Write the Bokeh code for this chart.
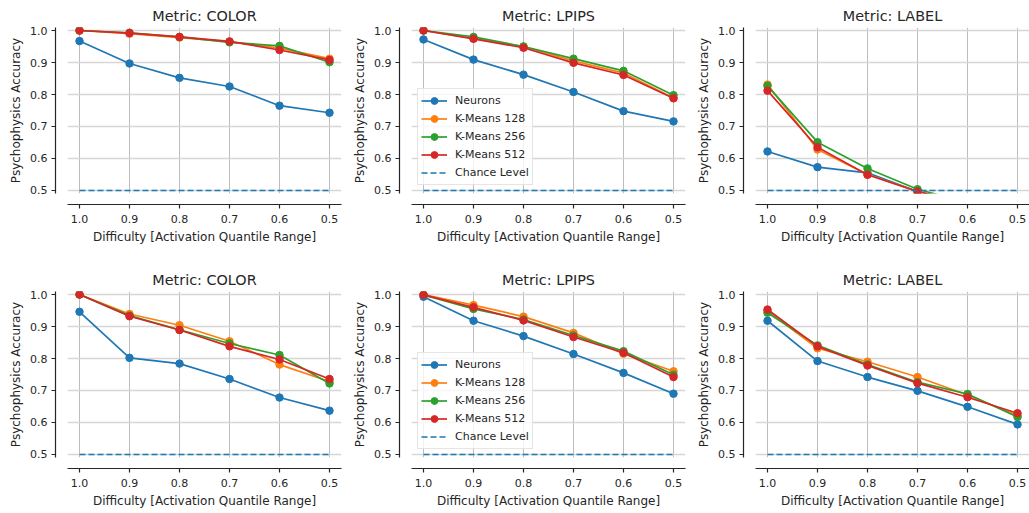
from bokeh.plotting import figure
from bokeh.layouts import column, row
from bokeh.models import (Range1d, FixedTicker, LinearAxis, PrintfTickFormatter,
                          Legend, LegendItem)
from bokeh.embed import file_html
from bokeh.resources import INLINE

# ---------------- data ----------------
difficulty = [1.0, 0.9, 0.8, 0.7, 0.6, 0.5]
x_ticks = [1.0, 0.9, 0.8, 0.7, 0.6, 0.5]
y_ticks = [0.5, 0.6, 0.7, 0.8, 0.9, 1.0]
chance = [0.5, 0.5, 0.5, 0.5, 0.5, 0.5]
series_names = ["Neurons", "K-Means 128", "K-Means 256", "K-Means 512"]
series_colors = ["#1f77b4", "#ff7f0e", "#2ca02c", "#d62728"]
titles = ["Metric: COLOR", "Metric: LPIPS", "Metric: LABEL"]

# top row
top_color_neurons = [0.967, 0.897, 0.852, 0.825, 0.765, 0.743]
top_color_km128 = [1.000, 0.990, 0.978, 0.965, 0.945, 0.912]
top_color_km256 = [1.000, 0.993, 0.980, 0.963, 0.952, 0.901]
top_color_km512 = [1.000, 0.992, 0.980, 0.966, 0.939, 0.908]

top_lpips_neurons = [0.972, 0.909, 0.862, 0.808, 0.748, 0.716]
top_lpips_km128 = [1.000, 0.975, 0.950, 0.905, 0.867, 0.789]
top_lpips_km256 = [1.000, 0.980, 0.950, 0.912, 0.874, 0.798]
top_lpips_km512 = [1.000, 0.974, 0.946, 0.899, 0.861, 0.788]

top_label_neurons = [0.622, 0.573, 0.555, 0.497, 0.460, 0.440]
top_label_km128 = [0.831, 0.628, 0.550, 0.497, 0.460, 0.440]
top_label_km256 = [0.827, 0.651, 0.569, 0.504, 0.462, 0.442]
top_label_km512 = [0.812, 0.635, 0.549, 0.497, 0.459, 0.440]

# bottom row
bot_color_neurons = [0.946, 0.802, 0.784, 0.736, 0.678, 0.637]
bot_color_km128 = [1.000, 0.939, 0.904, 0.854, 0.781, 0.728]
bot_color_km256 = [1.000, 0.934, 0.890, 0.847, 0.811, 0.722]
bot_color_km512 = [1.000, 0.932, 0.889, 0.838, 0.797, 0.736]

bot_lpips_neurons = [0.993, 0.918, 0.870, 0.814, 0.755, 0.690]
bot_lpips_km128 = [1.000, 0.967, 0.931, 0.880, 0.815, 0.760]
bot_lpips_km256 = [0.999, 0.955, 0.922, 0.872, 0.823, 0.749]
bot_lpips_km512 = [0.999, 0.960, 0.919, 0.867, 0.818, 0.742]

bot_label_neurons = [0.918, 0.792, 0.742, 0.699, 0.649, 0.594]
bot_label_km128 = [0.948, 0.832, 0.790, 0.742, 0.686, 0.622]
bot_label_km256 = [0.943, 0.841, 0.781, 0.726, 0.689, 0.617]
bot_label_km512 = [0.953, 0.838, 0.778, 0.723, 0.679, 0.629]

panels = [
    [
        [top_color_neurons, top_color_km128, top_color_km256, top_color_km512],
        [top_lpips_neurons, top_lpips_km128, top_lpips_km256, top_lpips_km512],
        [top_label_neurons, top_label_km128, top_label_km256, top_label_km512],
    ],
    [
        [bot_color_neurons, bot_color_km128, bot_color_km256, bot_color_km512],
        [bot_lpips_neurons, bot_lpips_km128, bot_lpips_km256, bot_lpips_km512],
        [bot_label_neurons, bot_label_km128, bot_label_km256, bot_label_km512],
    ],
]

FONT = "DejaVu Sans"
TEXT = "#262626"


def spacer_axis(size):
    # practically invisible axis that only reserves `size` px next to the
    # frame, so the real axis (placed after it) is drawn offset (despine look)
    return LinearAxis(ticker=FixedTicker(ticks=[0.75]),
                      axis_line_color="white", axis_line_alpha=0.01,
                      major_tick_in=0, major_tick_out=size,
                      major_tick_line_color="white", major_tick_line_alpha=0.01,
                      minor_tick_in=0, minor_tick_out=0,
                      major_label_standoff=0, major_label_text_font_size="1px",
                      major_label_text_color=None)


def make_panel(title, series, w, h, b_right, b_bottom, show_legend):
    p = figure(width=w, height=h,
               x_range=Range1d(1.024, 0.476), y_range=Range1d(0.4906, 1.0094),
               output_backend="svg", toolbar_location=None,
               min_border_left=67, min_border_right=b_right,
               min_border_top=27, min_border_bottom=b_bottom, title=title)
    p.outline_line_color = None
    p.background_fill_color = "white"
    p.border_fill_color = "white"
    p.title.text_font = FONT
    p.title.text_font_size = "14.4px"
    p.title.text_font_style = "normal"
    p.title.text_color = TEXT
    p.title.align = "center"
    p.title.standoff = 7

    xa = p.below[0]
    ya = p.left[0]
    xa.ticker = FixedTicker(ticks=x_ticks)
    ya.ticker = FixedTicker(ticks=y_ticks)
    for ax in (xa, ya):
        ax.formatter = PrintfTickFormatter(format="%.1f")
        ax.axis_line_color = TEXT
        ax.axis_line_width = 1.2
        ax.major_tick_line_color = TEXT
        ax.major_tick_line_width = 1.2
        ax.major_tick_in = 0
        ax.major_tick_out = 4
        ax.minor_tick_line_color = None
        ax.major_label_text_font = FONT
        ax.major_label_text_font_size = "11px"
        ax.major_label_text_color = TEXT
        ax.axis_label_text_font = FONT
        ax.axis_label_text_font_size = "12px"
        ax.axis_label_text_font_style = "normal"
        ax.axis_label_text_color = TEXT
    xa.axis_label = "Difficulty [Activation Quantile Range]"
    ya.axis_label = "Psychophysics Accuracy"
    xa.major_label_standoff = 6
    xa.axis_label_standoff = 4
    ya.major_label_standoff = 4
    ya.axis_label_standoff = 4

    # first entry is nearest to the frame
    p.below = [spacer_axis(11), xa]
    p.left = [spacer_axis(12), ya]

    p.xgrid.ticker = FixedTicker(ticks=x_ticks)
    p.ygrid.ticker = FixedTicker(ticks=y_ticks)
    p.xgrid.grid_line_color = "#bdbdbd"
    p.xgrid.grid_line_width = 1.0
    p.ygrid.grid_line_color = "#d6d6d6"
    p.ygrid.grid_line_width = 1.6

    items = []
    for name, vals, col in zip(series_names, series, series_colors):
        ln = p.line(difficulty, vals, line_color=col, line_width=1.7)
        sc = p.scatter(difficulty, vals, size=7.5, fill_color=col, line_color=col)
        items.append(LegendItem(label=name, renderers=[ln, sc]))
    ch = p.line(difficulty, chance, line_color=series_colors[0], line_width=1.7,
                line_dash="6 3")
    items.append(LegendItem(label="Chance Level", renderers=[ch]))

    if show_legend:
        leg = Legend(items=items, location=(6, 8))
        leg.label_text_font = FONT
        leg.label_text_font_size = "11px"
        leg.label_text_color = TEXT
        leg.border_line_color = "#cccccc"
        leg.border_line_width = 1
        leg.background_fill_color = "white"
        leg.background_fill_alpha = 0.8
        leg.glyph_width = 26
        leg.glyph_height = 17
        leg.label_height = 17
        leg.spacing = 1
        leg.padding = 3
        leg.margin = 0
        leg.label_standoff = 8
        p.add_layout(leg)
    return p


widths = [344, 344, 341]
rights = [3, 3, 0]
heights = [264, 249]
bottoms = [71, 56]

rows = []
for r in range(2):
    figs = []
    for c in range(3):
        figs.append(make_panel(titles[c], panels[r][c], widths[c], heights[r],
                               rights[c], bottoms[r], c == 1))
    rows.append(row(*figs, spacing=0))

layout = column(*rows, spacing=0)

open("out.html", "w").write(file_html(layout, INLINE))
